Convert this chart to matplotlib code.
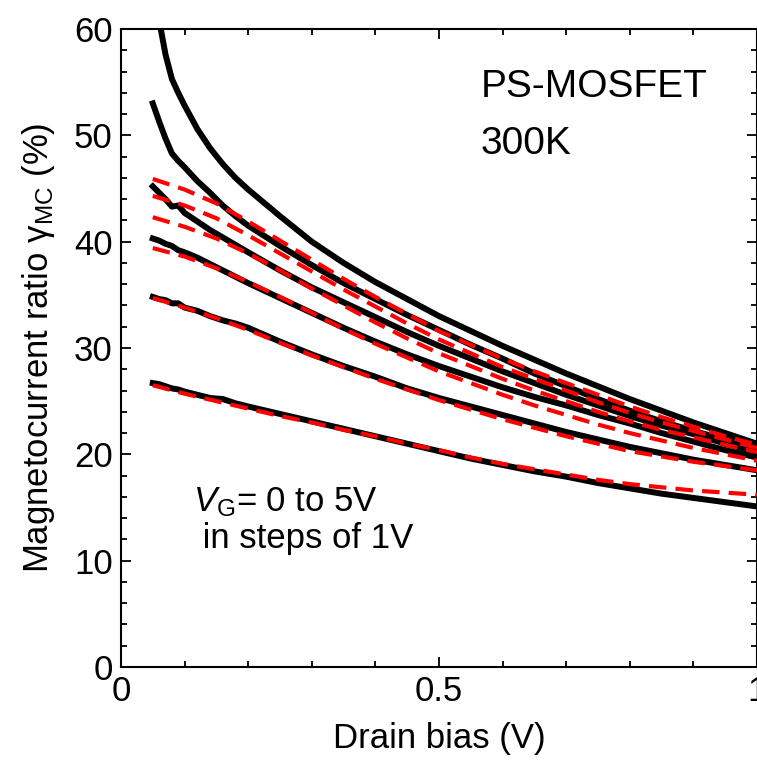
import matplotlib
matplotlib.use("Agg")
import matplotlib.pyplot as plt
from matplotlib.ticker import MultipleLocator, FixedLocator

plt.rcParams['font.family'] = ['Liberation Sans', 'DejaVu Sans']
plt.rcParams['mathtext.fontset'] = 'custom'
plt.rcParams['mathtext.rm'] = 'Liberation Sans'
plt.rcParams['mathtext.it'] = 'Liberation Sans:italic'

# measured curves (drain bias in V, ratio in %)
x_meas = [0.05, 0.06, 0.07, 0.08, 0.09, 0.1, 0.12, 0.14, 0.16, 0.18, 0.2, 0.25, 0.3,
          0.35, 0.4, 0.45, 0.5, 0.55, 0.6, 0.65, 0.7, 0.75, 0.8, 0.85, 0.9, 0.95, 1.0]
meas_vg5 = [66.0, 60.8, 57.6, 55.3, 54.0, 52.8, 50.6, 48.8, 47.3, 46.0, 44.9, 42.4, 40.0,
            38.0, 36.2, 34.6, 33.0, 31.6, 30.2, 28.9, 27.6, 26.4, 25.2, 24.1, 23.0, 22.0, 21.0]
meas_vg4 = [53.0, 51.3, 49.7, 48.3, 47.6, 47.0, 45.7, 44.6, 43.4, 42.4, 41.5, 39.6, 37.8,
            36.1, 34.6, 33.1, 31.7, 30.3, 29.0, 27.6, 26.4, 25.2, 24.1, 23.1, 22.2, 21.4, 20.6]
meas_vg3 = [45.2, 44.6, 44.0, 43.3, 43.4, 42.7, 41.9, 41.1, 40.4, 39.7, 39.0, 37.3, 35.7,
            34.3, 32.9, 31.5, 30.2, 29.0, 27.8, 26.7, 25.6, 24.6, 23.6, 22.7, 21.9, 21.0, 20.2]
meas_vg2 = [40.3, 40.1, 39.8, 39.6, 39.2, 39.0, 38.5, 37.9, 37.3, 36.7, 36.1, 34.7, 33.3,
            31.9, 30.6, 29.4, 28.3, 27.3, 26.3, 25.4, 24.6, 23.7, 22.9, 22.0, 21.2, 20.4, 19.7]
meas_vg1 = [34.8, 34.6, 34.5, 34.2, 34.2, 33.8, 33.5, 33.0, 32.6, 32.3, 31.9, 30.6, 29.4,
            28.3, 27.3, 26.2, 25.3, 24.5, 23.7, 22.9, 22.1, 21.4, 20.7, 20.1, 19.5, 19.0, 18.5]
meas_vg0 = [26.7, 26.6, 26.4, 26.2, 26.1, 25.9, 25.6, 25.3, 25.2, 24.8, 24.5, 23.8, 23.1,
            22.4, 21.7, 21.0, 20.3, 19.6, 19.0, 18.4, 17.9, 17.3, 16.8, 16.3, 15.9, 15.5, 15.1]

# fitted curves
x_fit = [0.05, 0.1, 0.15, 0.2, 0.25, 0.3, 0.35, 0.4, 0.45, 0.5,
         0.55, 0.6, 0.65, 0.7, 0.75, 0.8, 0.85, 0.9, 0.95, 1.0]
fit_vg5 = [45.9, 44.9, 43.6, 41.9, 40.1, 38.3, 36.5, 34.8, 33.2, 31.6,
           30.3, 29.0, 27.8, 26.7, 25.6, 24.5, 23.5, 22.6, 21.7, 20.9]
fit_vg4 = [44.3, 43.4, 42.2, 40.6, 38.9, 37.2, 35.5, 33.9, 32.3, 30.8,
           29.5, 28.2, 27.1, 26.0, 24.9, 23.9, 23.0, 22.2, 21.4, 20.6]
fit_vg3 = [42.3, 41.4, 40.3, 38.9, 37.3, 35.6, 34.0, 32.4, 30.9, 29.5,
           28.3, 27.1, 26.0, 25.0, 24.0, 23.1, 22.3, 21.6, 20.9, 20.2]
fit_vg2 = [39.4, 38.6, 37.5, 36.2, 34.8, 33.3, 31.8, 30.4, 29.1, 27.8,
           26.7, 25.6, 24.6, 23.7, 22.8, 22.0, 21.3, 20.6, 20.0, 19.4]
fit_vg1 = [34.7, 33.8, 32.8, 31.7, 30.5, 29.3, 28.2, 27.1, 26.1, 25.1,
           24.2, 23.3, 22.5, 21.7, 21.0, 20.3, 19.8, 19.3, 18.9, 18.5]
fit_vg0 = [26.5, 25.7, 25.0, 24.3, 23.6, 23.0, 22.3, 21.7, 21.0, 20.4,
           19.7, 19.1, 18.6, 18.1, 17.6, 17.2, 16.9, 16.6, 16.4, 16.2]

meas = [meas_vg5, meas_vg4, meas_vg3, meas_vg2, meas_vg1, meas_vg0]
fits = [fit_vg5, fit_vg4, fit_vg3, fit_vg2, fit_vg1, fit_vg0]

fig = plt.figure(figsize=(7.57, 7.60), dpi=100)
ax = fig.add_axes([121 / 757, 93 / 760, 636 / 757, 638 / 760])

for y in meas:
    ax.plot(x_meas, y, color="black", lw=4.3, solid_joinstyle="round", zorder=2)
for y in fits:
    ax.plot(x_fit, y, color="#ff0000", lw=3.0, dashes=(4.2, 2.2), zorder=3)

ax.set_xlim(0, 1)
ax.set_ylim(0, 60)
ax.xaxis.set_major_locator(FixedLocator([0, 0.5, 1]))
ax.set_xticklabels(["0", "0.5", "1"])
ax.xaxis.set_minor_locator(MultipleLocator(0.1))
ax.yaxis.set_major_locator(MultipleLocator(10))
ax.yaxis.set_minor_locator(MultipleLocator(2))
ax.tick_params(which="both", direction="in", top=True, right=True, labelsize=25, width=1.3)
ax.tick_params(which="major", length=7, pad=6)
ax.tick_params(which="minor", length=4)
for s in ax.spines.values():
    s.set_linewidth(1.5)

ax.set_xlabel("Drain bias (V)", fontsize=25, labelpad=10)
ax.set_ylabel("Magnetocurrent ratio γ$_{\\mathrm{MC}}$ (%)", fontsize=25, labelpad=12)

ax.text(0.566, 54.5, "PS-MOSFET", fontsize=28, ha="left", va="center")
ax.text(0.566, 49.2, "300K", fontsize=28, ha="left", va="center")
ax.text(0.113, 15.5, "$V_{\\mathrm{G}}$= 0 to 5V", fontsize=25, ha="left", va="center")
ax.text(0.113, 12.1, " in steps of 1V", fontsize=25, ha="left", va="center")

fig.savefig("out.png", dpi=100)
